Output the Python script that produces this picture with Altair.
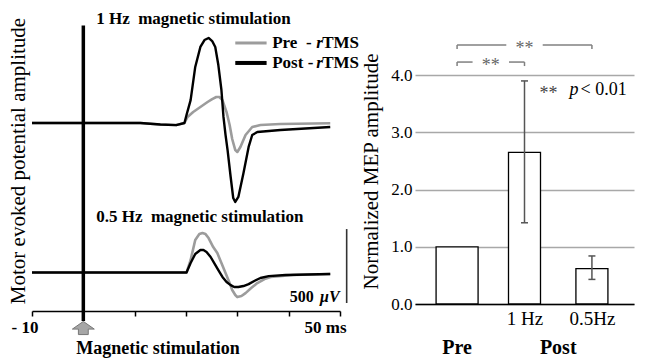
import altair as alt
import pandas as pd

SERIF = "Liberation Serif"

# ---------------- data: MEP traces (time in ms, amplitude in µV from baseline) ----------------
t_1hz_pre = [-10, 0, 11.1, 15.0, 18.1, 19.7, 20.3, 21.4, 22.8, 24.2, 25.1, 25.9, 26.5, 27.1, 27.9,
             28.5, 29.0, 29.6, 30.0, 30.6, 31.6, 32.9, 34.5, 38.4, 48.1]
v_1hz_pre = [0, 0, 0, -10, -14, 0, 41, 74, 108, 142, 162, 176, 176, 155, 74,
             -14, -108, -183, -196, -162, -81, -27, -14, -7, -2]

t_1hz_post = [-10, 0, 11.1, 15.0, 18.1, 19.7, 20.1, 20.9, 21.8, 22.8, 23.6, 24.4, 25.1, 25.7, 26.3,
              26.9, 27.3, 27.7, 28.1, 28.7, 29.2, 29.6, 30.2, 31.2, 32.2, 32.9, 33.9, 38.4, 48.1]
v_1hz_post = [0, 0, 0, -10, -14, 0, 54, 155, 379, 514, 561, 575, 554, 514, 392,
              223, 41, -81, -183, -365, -507, -534, -500, -338, -162, -81, -61, -47, -27]

t_05_pre = [-10, 0, 20.1, 20.9, 21.8, 22.6, 23.2, 23.8, 24.4, 25.3, 26.1, 26.9, 27.7, 28.5, 29.0,
            29.6, 30.0, 30.8, 31.6, 32.7, 33.9, 35.3, 36.5, 40.9, 48.1]
v_05_pre = [0, 0, 0, 85, 220, 260, 267, 260, 233, 172, 132, 64, -3, -71, -118,
            -152, -166, -159, -139, -105, -71, -44, -30, -17, -10]

t_05_post = [-10, 0, 20.1, 20.9, 21.8, 22.8, 23.4, 24.0, 24.8, 25.5, 26.3, 27.1, 27.9, 28.7, 29.4,
             30.2, 31.2, 32.2, 33.3, 34.5, 36.1, 39.4, 48.1]
v_05_post = [0, 0, 0, 64, 125, 152, 152, 139, 105, 64, 17, -30, -64, -85, -98,
             -98, -91, -78, -57, -37, -24, -17, -10]

panels = ["1 Hz", "0.5 Hz"]
panel_titles = ["1 Hz\u00a0\u00a0magnetic stimulation", "0.5 Hz\u00a0\u00a0magnetic stimulation"]
phases = ["Pre", "Post"]
legend_prefix = ["Pre\u00a0\u00a0-\u00a0", "Post\u00a0-\u00a0"]
stim_time = 0
scale_bar_uv = 500
x_tick_values = [-10, 0, 10, 20, 30, 40, 50]

# ---------------- data: normalised MEP amplitude ----------------
conditions = ["Pre", "1 Hz", "0.5Hz"]
groups = ["Pre", "Post", "Post"]
mep_mean = [1.0, 2.65, 0.62]
mep_lo = [None, 1.42, 0.43]
mep_hi = [None, 3.90, 0.84]
y_tick_values = [0, 1, 2, 3, 4]
sig_left = ["Pre", "Pre"]
sig_right = ["0.5Hz", "1 Hz"]
sig_text = ["**", "**"]

# ---------------- layout / style constants ----------------
LW, LH = 308, 301
L_YMAX = 2035
PANEL_OFFSET = {"1 Hz": 1271, "0.5 Hz": 260}
PANEL_TITLE_Y = {"1 Hz": 1974, "0.5 Hz": 635}
TITLE_X = 2.5
STIM_TOP, STIM_BOTTOM = 1930, -68
LEG_X1, LEG_X2, LEG_TX = 29.6, 35.7, 36.8
LEG_Y0, LEG_DY = 1812, 135
SB_X, SB_Y0, SB_TEXT_Y = 51.3, 54, 95
PHASE_COLOR = {"Pre": "#9c9c9c", "Post": "#000000"}
PHASE_WIDTH = {"Pre": 2.6, "Post": 2.4}
LEG_WIDTH = {"Pre": 3.0, "Post": 4.0}

RW, RH = 219, 294
R_YMAX = 5.14
R_XDOM = [-0.55, 2.55]
BAR_W = {"Pre": 42}
BAR_W_DEFAULT = 32
SIG_LEVEL = [4.53, 4.23]
SIG_GAP = 0.27
SIG_DROP = 0.07

# ---------------- left panel ----------------
rows = []
series = {("1 Hz", "Pre"): (t_1hz_pre, v_1hz_pre), ("1 Hz", "Post"): (t_1hz_post, v_1hz_post),
          ("0.5 Hz", "Pre"): (t_05_pre, v_05_pre), ("0.5 Hz", "Post"): (t_05_post, v_05_post)}
for (panel, phase), (ts, vs) in series.items():
    for t, v in zip(ts, vs):
        rows.append({"panel": panel, "phase": phase, "t": t, "y": v + PANEL_OFFSET[panel]})
traces = pd.DataFrame(rows)

x_axis_l = alt.Axis(values=x_tick_values, title=None, grid=False, domainColor="black", domainWidth=1.5,
                    tickColor="black", tickSize=5, tickWidth=1.5, labelFont=SERIF, labelFontSize=17,
                    labelFontWeight="bold", labelColor="black", labelAlign="right", labelOffset=6,
                    labelPadding=3, labelOverlap=False,
                    labelExpr="datum.value == -10 ? '- 10' : (datum.value == 50 ? '50 ms' : '')")
y_axis_l = alt.Axis(title="Motor evoked potential amplitude", labels=False, ticks=False, domain=False,
                    grid=False, titleFont=SERIF, titleFontSize=21, titleFontWeight="normal",
                    titleColor="black", titlePadding=4)
xl = alt.X("t:Q", scale=alt.Scale(domain=[-10, 50], nice=False, zero=False), axis=x_axis_l)
yl = alt.Y("y:Q", scale=alt.Scale(domain=[0, L_YMAX], nice=False), axis=y_axis_l)

layers_l = []
for ph in phases:
    layers_l.append(
        alt.Chart(traces).transform_filter(alt.datum.phase == ph)
        .mark_line(color=PHASE_COLOR[ph], strokeWidth=PHASE_WIDTH[ph], strokeJoin="round")
        .encode(x=xl, y=yl, detail="panel:N")
    )

stim_df = pd.DataFrame({"t": [stim_time], "y": [STIM_TOP], "y_end": [STIM_BOTTOM]})
stim_line = alt.Chart(stim_df).mark_rule(color="black", strokeWidth=3.5, strokeCap="butt").encode(
    x=alt.X("t:Q"), y=alt.Y("y:Q"), y2="y_end:Q")
arrow_path = "M0,-0.6L1,0.1L0.45,0.1L0.45,0.6L-0.45,0.6L-0.45,0.1L-1,0.1Z"
stim_arrow = alt.Chart(stim_df).mark_point(
    shape=arrow_path, size=480, filled=True, fill="#a6a6a6", stroke="#777777", strokeWidth=1, opacity=1
).encode(x=alt.X("t:Q"), y=alt.value(LH + 17))
stim_text = alt.Chart(stim_df).mark_text(
    text="Magnetic stimulation", align="left", baseline="middle", dx=-7, font=SERIF, fontSize=18,
    fontWeight="bold", color="black").encode(x=alt.X("t:Q"), y=alt.value(LH + 38))

title_df = pd.DataFrame({"panel": panels, "label": panel_titles})
title_df["ty"] = title_df["panel"].map(PANEL_TITLE_Y)
panel_title = alt.Chart(title_df).mark_text(
    align="left", baseline="middle", font=SERIF, fontSize=17, fontWeight="bold", color="black"
).encode(x=alt.datum(TITLE_X), y=alt.Y("ty:Q"), text="label:N")

leg_df = pd.DataFrame({"phase": phases, "prefix": legend_prefix})
leg_df["ly"] = [LEG_Y0 - i * LEG_DY for i in range(len(phases))]
leg_layers = []
for ph in phases:
    d = leg_df[leg_df.phase == ph]
    leg_layers.append(alt.Chart(d).mark_rule(color=PHASE_COLOR[ph], strokeWidth=LEG_WIDTH[ph]).encode(
        x=alt.datum(LEG_X1), x2=alt.datum(LEG_X2), y=alt.Y("ly:Q")))
leg_text1 = alt.Chart(leg_df).mark_text(align="left", baseline="middle", font=SERIF, fontSize=17,
                                         fontWeight="bold", color="black").encode(
    x=alt.datum(LEG_TX), y=alt.Y("ly:Q"), text="prefix:N")
leg_text2 = alt.Chart(leg_df).mark_text(text="r", align="left", baseline="middle", dx=44, font=SERIF,
                                         fontSize=17, fontWeight="bold", fontStyle="italic",
                                         color="black").encode(x=alt.datum(LEG_TX), y=alt.Y("ly:Q"))
leg_text3 = alt.Chart(leg_df).mark_text(text="TMS", align="left", baseline="middle", dx=50, font=SERIF,
                                         fontSize=17, fontWeight="bold", color="black").encode(
    x=alt.datum(LEG_TX), y=alt.Y("ly:Q"))

sb_df = pd.DataFrame({"y0": [SB_Y0], "y1": [SB_Y0 + scale_bar_uv], "lab": [str(scale_bar_uv)]})
sb_rule = alt.Chart(sb_df).mark_rule(color="#333333", strokeWidth=1.6).encode(
    x=alt.datum(SB_X), y=alt.Y("y0:Q"), y2="y1:Q")
sb_num = alt.Chart(sb_df).mark_text(align="right", baseline="middle", dx=-33,
                                     font=SERIF, fontSize=16, fontWeight="bold", color="black").encode(
    x=alt.datum(SB_X), y=alt.datum(SB_TEXT_Y), text="lab:N")
sb_unit = alt.Chart(sb_df).mark_text(text="\u00b5V", align="right", baseline="middle", dx=-7,
                                      font=SERIF, fontSize=16, fontWeight="bold", fontStyle="italic",
                                      color="black").encode(x=alt.datum(SB_X), y=alt.datum(SB_TEXT_Y))

left = alt.layer(*layers_l, stim_line, stim_arrow, stim_text, panel_title, *leg_layers,
                 leg_text1, leg_text2, leg_text3, sb_rule, sb_num, sb_unit).properties(width=LW, height=LH)

# ---------------- right panel ----------------
bars = pd.DataFrame({"cond": conditions, "group": groups, "mean": mep_mean, "lo": mep_lo, "hi": mep_hi})
bars["idx"] = range(len(conditions))
width_expr = " : ".join([f"datum.cond == '{k}' ? {v}" for k, v in BAR_W.items()]) + f" : {BAR_W_DEFAULT}"
axis_labels = [c if g != c else "" for c, g in zip(conditions, groups)]
label_expr = "[" + ",".join(f"'{s}'" for s in axis_labels) + "][datum.value]"

x_axis_r = alt.Axis(values=list(range(len(conditions))), title=None, grid=False, ticks=False,
                    domainColor="black", domainWidth=1.6, labelFont=SERIF, labelFontSize=19,
                    labelColor="black", labelPadding=5, labelExpr=label_expr, labelOverlap=False)
y_axis_r = alt.Axis(values=y_tick_values, format=".1f", title="Normalized MEP amplitude", ticks=False,
                    domain=False, grid=True, gridColor="#a8a8a8", gridWidth=1.3, labelFont=SERIF,
                    labelFontSize=17, labelColor="black", labelPadding=3, titleFont=SERIF,
                    titleFontSize=21, titleFontWeight="normal", titleColor="black", titlePadding=9,
                    titleY=161)


def xr(field):
    return alt.X(field, type="quantitative", scale=alt.Scale(domain=R_XDOM, nice=False, zero=False),
                 axis=x_axis_r)


def yr(field):
    return alt.Y(field, type="quantitative", scale=alt.Scale(domain=[0, R_YMAX], nice=False),
                 axis=y_axis_r)


bar_layer = alt.Chart(bars).transform_calculate(w=width_expr).mark_bar(
    orient="vertical", fill="white", stroke="black", strokeWidth=1.3
).encode(x=xr("idx"), y=yr("mean"), size=alt.Size("w:Q", scale=None, legend=None))

err = alt.Chart(bars).transform_filter("isValid(datum.hi)")
err_rule = err.mark_rule(color="#555555", strokeWidth=1.5).encode(x=xr("idx"), y=yr("lo"), y2="hi:Q")
cap_lo = err.mark_point(shape="stroke", size=49, strokeWidth=1.5, color="#555555", opacity=1).encode(
    x=xr("idx"), y=yr("lo"))
cap_hi = err.mark_point(shape="stroke", size=49, strokeWidth=1.5, color="#555555", opacity=1).encode(
    x=xr("idx"), y=yr("hi"))

br = pd.DataFrame({"left": sig_left, "right": sig_right, "mark": sig_text, "level": SIG_LEVEL})
br["li"] = [conditions.index(c) for c in br["left"]]
br["ri"] = [conditions.index(c) for c in br["right"]]
br["mid"] = (br["li"] + br["ri"]) / 2
br["a2"] = br["mid"] - SIG_GAP
br["b1"] = br["mid"] + SIG_GAP
br["drop"] = br["level"] - SIG_DROP
BR_COLOR = "#808080"
br_a = alt.Chart(br).mark_rule(color=BR_COLOR, strokeWidth=1.5).encode(x=xr("li"), x2="a2:Q", y=yr("level"))
br_b = alt.Chart(br).mark_rule(color=BR_COLOR, strokeWidth=1.5).encode(x=xr("b1"), x2="ri:Q", y=yr("level"))
br_l = alt.Chart(br).mark_rule(color=BR_COLOR, strokeWidth=1.5).encode(x=xr("li"), y=yr("level"), y2="drop:Q")
br_r = alt.Chart(br).mark_rule(color=BR_COLOR, strokeWidth=1.5).encode(x=xr("ri"), y=yr("level"), y2="drop:Q")
br_t = alt.Chart(br).mark_text(font=SERIF, fontSize=18, color="#666666", baseline="middle", dy=4).encode(
    x=xr("mid"), y=yr("level"), text="mark:N")

ann = alt.Chart(bars).transform_filter(alt.datum.cond == "1 Hz")
ann_star = ann.mark_text(text="**", font=SERIF, fontSize=18, color="#444444", baseline="middle",
                         dx=24, dy=13).encode(x=xr("idx"), y=yr("hi"))
ann_p = ann.mark_text(text="p", font=SERIF, fontSize=18, fontStyle="italic", color="black",
                      align="left", baseline="middle", dx=45, dy=9).encode(x=xr("idx"), y=yr("hi"))
ann_v = ann.mark_text(text="< 0.01", font=SERIF, fontSize=18, color="black", align="left",
                      baseline="middle", dx=56, dy=9).encode(x=xr("idx"), y=yr("hi"))

grp = bars.groupby("group", sort=False)["idx"].mean().reset_index()
grp_text = alt.Chart(grp).mark_text(font=SERIF, fontSize=20, fontWeight="bold", color="black",
                                    baseline="middle").encode(x=xr("idx"), y=alt.value(RH + 44),
                                                              text="group:N")

right = alt.layer(bar_layer, err_rule, cap_lo, cap_hi, br_a, br_b, br_l, br_r, br_t,
                  ann_star, ann_p, ann_v, grp_text).properties(width=RW, height=RH)

chart = alt.hconcat(left, right, spacing=0).properties(
    padding={"left": 7, "top": 10, "right": 2, "bottom": 0}, background="white"
).configure_view(stroke=None)

chart.save("out.html", embed_options={"renderer": "svg", "actions": False})
